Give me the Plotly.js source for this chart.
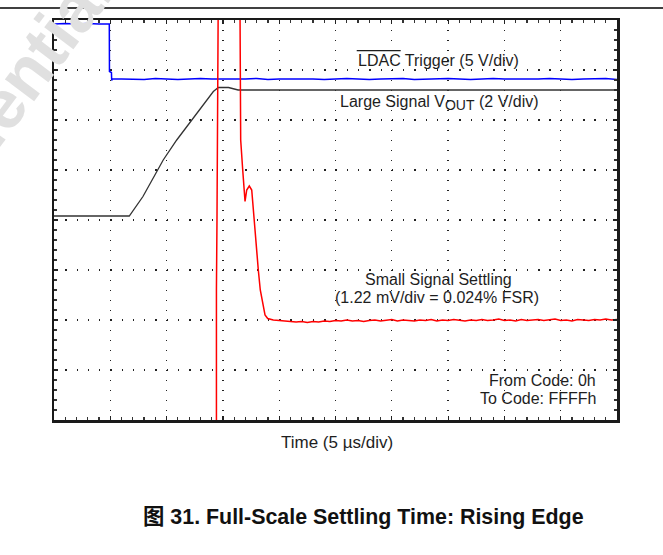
<!DOCTYPE html>
<html>
<head>
<meta charset="utf-8">
<script src="https://cdn.plot.ly/plotly-3.0.1.min.js"></script>
<style>html,body{margin:0;padding:0;background:#fff;}#chart{width:663px;height:555px;}</style>
</head>
<body>
<div id="chart"></div>
<script>
// Time axis in divisions (5 µs/div), vertical axis in divisions (0 = bottom, 8 = top)
const ldacTime = [0, 0.2, 0.4, 0.6, 0.8, 0.982, 0.985, 1.02, 1.025, 1.03,
  1.2, 1.4, 1.6, 1.8, 2.0, 2.2, 2.4, 2.6, 2.8, 3.0, 3.2, 3.4, 3.6, 3.8, 4.0, 4.2, 4.4, 4.6, 4.8, 5.0,
  5.2, 5.4, 5.6, 5.8, 6.0, 6.2, 6.4, 6.6, 6.8, 7.0, 7.2, 7.4, 7.6, 7.8, 8.0, 8.2, 8.4, 8.6, 8.8, 9.0,
  9.2, 9.4, 9.6, 9.8, 10.0];
const ldacLevel = [7.92, 7.93, 7.92, 7.93, 7.92, 7.92, 6.97, 6.95, 6.79, 6.82,
  6.82, 6.82, 6.81, 6.83, 6.82, 6.81, 6.82, 6.83, 6.82, 6.82, 6.81, 6.82, 6.83, 6.81, 6.82, 6.82, 6.83, 6.82, 6.81, 6.82,
  6.83, 6.82, 6.81, 6.82, 6.82, 6.83, 6.81, 6.82, 6.82, 6.83, 6.82, 6.81, 6.82, 6.83, 6.82, 6.82, 6.81, 6.82, 6.83, 6.82,
  6.81, 6.82, 6.82, 6.83, 6.81];

const voutTime = [0, 1.337, 1.58, 1.94, 2.18, 2.83, 2.92, 3.10, 3.27, 10.0];
const voutLevel = [4.08, 4.08, 4.47, 5.2, 5.6, 6.57, 6.65, 6.65, 6.6, 6.6];

const settleTime = [2.885, 2.877, 2.885, 2.895, 2.905, 2.915, 2.918, 2.92, 3.30, 3.304, 3.316, 3.352, 3.380, 3.393, 3.423, 3.469, 3.512, 3.552, 3.588, 3.629, 3.664, 3.707, 3.748, 3.796, 3.895,
  4.0, 4.1, 4.2, 4.3, 4.4, 4.5, 4.6, 4.7, 4.8, 4.9, 5.0, 5.1, 5.2, 5.3, 5.4, 5.5, 5.6, 5.7, 5.8, 5.9,
  6.0, 6.1, 6.2, 6.3, 6.4, 6.5, 6.6, 6.7, 6.8, 6.9, 7.0, 7.1, 7.2, 7.3, 7.4, 7.5, 7.6, 7.7, 7.8, 7.9,
  8.0, 8.1, 8.2, 8.3, 8.4, 8.5, 8.6, 8.7, 8.8, 8.9, 9.0, 9.1, 9.2, 9.3, 9.4, 9.5, 9.6, 9.7, 9.8, 9.9, 10.0];
const settleLevel = [-1, 1.5, 2.6, 4.0, 5.5, 7.0, 8.0, 9.0, 9.0, 8.0, 5.6, 5.0, 4.6, 4.37, 4.6, 4.68, 4.6, 4.03, 3.47, 3.0, 2.6, 2.33, 2.1, 2.03, 2.0,
  1.99, 1.98, 1.97, 1.96, 1.97, 1.95, 1.97, 1.96, 1.98, 1.97, 1.99, 1.98, 2.00, 1.98, 1.99, 1.97, 1.99, 2.00, 1.98, 1.99,
  2.01, 1.98, 2.00, 1.99, 1.98, 2.00, 1.99, 2.01, 1.98, 2.00, 1.99, 2.01, 2.00, 1.98, 2.00, 1.99, 2.01, 1.99, 2.00, 2.02,
  1.99, 2.00, 1.98, 2.01, 1.99, 2.00, 2.01, 1.99, 2.00, 2.02, 1.99, 2.00, 1.98, 2.01, 2.00, 1.99, 2.01, 2.00, 2.02, 2.00, 2.01];

const labelLdac = 'LDAC Trigger (5 V/div)';
const labelVout = 'Large Signal V<sub><span style="font-size:14px">OUT</span></sub> (2 V/div)';
const labelSmall1 = 'Small Signal Settling';
const labelSmall2 = '(1.22 mV/div = 0.024% FSR)';
const labelFrom = 'From Code: 0h';
const labelTo = 'To Code: FFFFh';
const labelTime = 'Time (5 µs/div)';
const figTitle = '<b>图 31. Full-Scale Settling Time: Rising Edge</b>';
const watermark = '<b>Confidential</b>';

const FONT = 'Liberation Sans, Arial, Noto Sans CJK SC, sans-serif';
const TXT = '#1e1e1e';

const traces = [
  {x: ldacTime, y: ldacLevel, mode: 'lines', line: {color: '#0000ff', width: 1.5}, hoverinfo: 'skip'},
  {x: voutTime, y: voutLevel, mode: 'lines', line: {color: '#333333', width: 1.3}, hoverinfo: 'skip'},
  {x: settleTime, y: settleLevel, mode: 'lines', line: {color: '#ff0000', width: 1.5}, hoverinfo: 'skip'}
];

function axisCommon(n, dashStr) {
  return {
    range: [0, n], dtick: 1, tick0: 0, fixedrange: true,
    showgrid: true, gridcolor: '#222', gridwidth: 1.4, griddash: dashStr,
    zeroline: false, showticklabels: false,
    ticks: 'inside', ticklen: 4, tickwidth: 1.2, tickcolor: '#222',
    showline: true, linecolor: '#1a1a1a', linewidth: 2.5, mirror: 'allticks',
    minor: {dtick: 0.2, ticks: 'inside', ticklen: 3, tickwidth: 1.2, tickcolor: '#333', showgrid: false}
  };
}

const ann = (text, x, y, xanchor, extra) => Object.assign({
  text: text, x: x, y: y, xref: 'paper', yref: 'paper', xanchor: xanchor, yanchor: 'middle',
  showarrow: false, font: {family: FONT, size: 16, color: TXT}
}, extra || {});

const layout = {
  width: 663, height: 555,
  margin: {l: 54, r: 46, t: 20, b: 135, pad: 0},
  paper_bgcolor: '#ffffff', plot_bgcolor: '#ffffff',
  showlegend: false,
  xaxis: axisCommon(10, '1.4px,8.6px'),
  yaxis: axisCommon(8, '1.4px,9.86px'),
  annotations: [
    ann(watermark, -0.135, 0.71, 'center', {textangle: -53, font: {family: FONT, size: 69, color: '#e0e0e0'}}),
    ann(labelLdac, 0.6833, 0.8988, 'center'),
    ann(labelVout, 0.6856, 0.7925, 'center'),
    ann(labelSmall1, 0.6835, 0.3525, 'center'),
    ann(labelSmall2, 0.6803, 0.3075, 'center'),
    ann(labelFrom, 0.9668, 0.09875, 'right'),
    ann(labelTo, 0.9668, 0.05375, 'right'),
    ann(labelTime, 0.503, -0.05625, 'center', {font: {family: FONT, size: 17, color: TXT}}),
    ann(figTitle, 0.5506, -0.2425, 'center', {font: {family: FONT, size: 21.4, color: '#111'}})
  ],
  shapes: [
    {type: 'line', xref: 'paper', yref: 'paper', x0: -0.0959, x1: 1.0817, y0: 1.03, y1: 1.03, line: {color: '#000', width: 1.5}},
    {type: 'line', xref: 'paper', yref: 'paper', x0: 0.5377, x1: 0.6158, y0: 0.9233, y1: 0.9233, line: {color: TXT, width: 1.3}}
  ]
};

Plotly.newPlot('chart', traces, layout, {staticPlot: true, displayModeBar: false});
</script>
</body>
</html>
